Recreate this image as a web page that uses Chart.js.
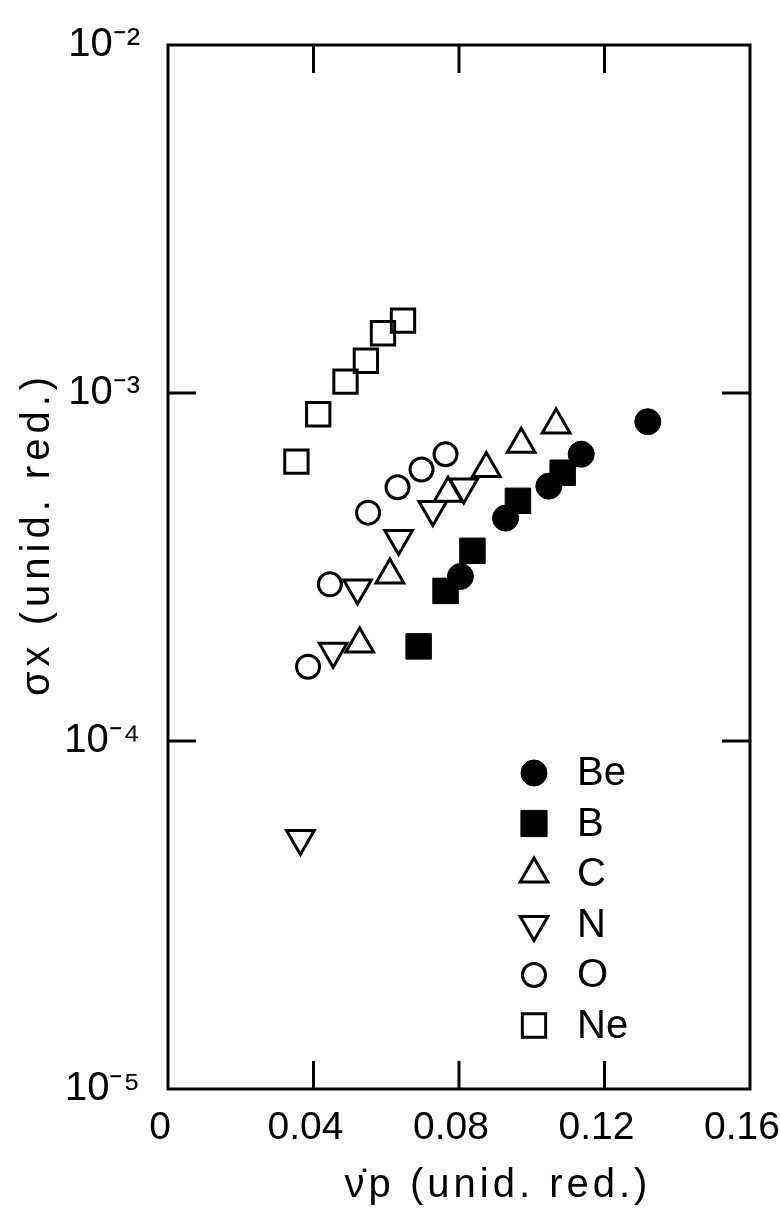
<!DOCTYPE html>
<html><head><meta charset="utf-8">
<script src="https://cdn.jsdelivr.net/npm/chart.js@4.4.1/dist/chart.umd.min.js"></script>
<style>html,body{margin:0;padding:0;background:#fff;}canvas{display:block;}</style>
</head><body>
<canvas id="c" width="780" height="1214"></canvas>
<script>
// ---- data ----
const seriesNames = ['Be', 'B', 'C', 'N', 'O', 'Ne'];
const beX = [0.0804, 0.0928, 0.1047, 0.1136, 0.1319];
const beY = [2.97e-4, 4.37e-4, 5.40e-4, 6.67e-4, 8.27e-4];
const bX  = [0.0689, 0.0763, 0.0837, 0.0962, 0.1085];
const bY  = [1.87e-4, 2.70e-4, 3.52e-4, 4.90e-4, 5.90e-4];
const cX  = [0.0527, 0.0610, 0.0770, 0.0875, 0.0971, 0.1067];
const cY  = [1.90e-4, 3.00e-4, 5.15e-4, 6.07e-4, 7.12e-4, 8.09e-4];
const nX  = [0.0364, 0.0454, 0.0521, 0.0634, 0.0728, 0.0813];
const nY  = [5.25e-5, 1.81e-4, 2.75e-4, 3.82e-4, 4.63e-4, 5.37e-4];
const oX  = [0.0385, 0.0445, 0.0550, 0.0631, 0.0697, 0.0763];
const oY  = [1.635e-4, 2.82e-4, 4.53e-4, 5.36e-4, 6.03e-4, 6.67e-4];
const neX = [0.0353, 0.0413, 0.0488, 0.0544, 0.0591, 0.0646];
const neY = [6.35e-4, 8.69e-4, 1.078e-3, 1.238e-3, 1.485e-3, 1.614e-3];

const xTickValues = [0, 0.04, 0.08, 0.12, 0.16];
const xTickLabels = ['0', '0.04', '0.08', '0.12', '0.16'];
const yTickValues = [1e-5, 1e-4, 1e-3, 1e-2];
const yTickLabels = ['10\u207B\u2075', '10\u207B\u2074', '10\u207B\u00B3', '10\u207B\u00B2'];
const xTitle = '\u03BD\u0307p (unid. red.)';
const yTitle = '\u03C3x (unid. red.)';

// ---- styles ----
const FONT = "'Liberation Sans', Arial, sans-serif";
const styles = [
  {pointStyle: 'circle',   radius: 13,   rotation: 0,   fill: '#000', bw: 1},
  {pointStyle: 'rect',     radius: 18,   rotation: 0,   fill: '#000', bw: 1},
  {pointStyle: 'triangle', radius: 16,   rotation: 0,   fill: 'rgba(0,0,0,0)', bw: 3},
  {pointStyle: 'triangle', radius: 16,   rotation: 180, fill: 'rgba(0,0,0,0)', bw: 3},
  {pointStyle: 'circle',   radius: 11.5, rotation: 0,   fill: 'rgba(0,0,0,0)', bw: 3},
  {pointStyle: 'rect',     radius: 16.5, rotation: 0,   fill: 'rgba(0,0,0,0)', bw: 3}
];
const xs = [beX, bX, cX, nX, oX, neX];
const ys = [beY, bY, cY, nY, oY, neY];

const datasets = seriesNames.map((name, i) => ({
  label: name,
  data: xs[i].map((x, j) => ({x: x, y: ys[i][j]})),
  pointStyle: styles[i].pointStyle,
  pointRadius: styles[i].radius,
  pointRotation: styles[i].rotation,
  pointBackgroundColor: styles[i].fill,
  pointBorderColor: '#000',
  pointBorderWidth: styles[i].bw,
  showLine: false
}));

function labelFor(values, labels, v) {
  for (let k = 0; k < values.length; k++) {
    if (Math.abs(values[k] - v) <= Math.abs(values[k]) * 1e-6 + 1e-12) return labels[k];
  }
  return '';
}

function drawMarker(ctx, st, x, y) {
  ctx.save();
  ctx.lineWidth = st.bw;
  ctx.strokeStyle = '#000';
  ctx.fillStyle = st.fill;
  ctx.beginPath();
  const r = st.radius;
  if (st.pointStyle === 'circle') {
    ctx.arc(x, y, r, 0, Math.PI * 2);
  } else if (st.pointStyle === 'rect') {
    const s = Math.SQRT1_2 * r;
    ctx.rect(x - s, y - s, 2 * s, 2 * s);
  } else {
    const rot = st.rotation * Math.PI / 180;
    for (let k = 0; k < 3; k++) {
      const a = rot + k * 2 * Math.PI / 3;
      const px = x + Math.sin(a) * r, py = y - Math.cos(a) * r;
      if (k === 0) ctx.moveTo(px, py); else ctx.lineTo(px, py);
    }
    ctx.closePath();
  }
  ctx.fill();
  ctx.stroke();
  ctx.restore();
}

const framePlugin = {
  id: 'frame',
  beforeDatasetsDraw(chart) {
    const ctx = chart.ctx, a = chart.chartArea;
    const sx = chart.scales.x, sy = chart.scales.y;
    const TL = 28;
    ctx.save();
    ctx.strokeStyle = '#000';
    ctx.lineWidth = 3;
    ctx.lineCap = 'butt';
    ctx.strokeRect(a.left, a.top, a.right - a.left, a.bottom - a.top);
    ctx.beginPath();
    sx.ticks.forEach(t => {
      if (t.value <= sx.min || t.value >= sx.max) return;
      const px = sx.getPixelForValue(t.value);
      ctx.moveTo(px, a.bottom); ctx.lineTo(px, a.bottom - TL);
      ctx.moveTo(px, a.top); ctx.lineTo(px, a.top + TL);
    });
    sy.ticks.forEach(t => {
      if (t.value <= sy.min * 1.0001 || t.value >= sy.max * 0.9999) return;
      const py = sy.getPixelForValue(t.value);
      ctx.moveTo(a.left, py); ctx.lineTo(a.left + TL, py);
      ctx.moveTo(a.right, py); ctx.lineTo(a.right - TL, py);
    });
    ctx.stroke();
    ctx.restore();
  },
  afterDraw(chart) {
    const ctx = chart.ctx;
    // legend inside plot area
    const lx = 534, ly0 = 773, dy = 50.5, tx = 577;
    ctx.save();
    ctx.font = '40px ' + FONT;
    ctx.fillStyle = '#000';
    ctx.textAlign = 'left';
    ctx.textBaseline = 'middle';
    seriesNames.forEach((name, i) => {
      const st = Object.assign({}, styles[i]);
      if (st.pointStyle === 'rect' && st.bw === 1) st.radius = 18.5;
      drawMarker(ctx, st, lx, ly0 + i * dy);
      ctx.fillText(name, tx, ly0 + i * dy + 1);
    });
    ctx.restore();
    // axis titles
    ctx.save();
    ctx.fillStyle = '#000';
    ctx.font = '40px ' + FONT;
    ctx.textAlign = 'center';
    ctx.textBaseline = 'middle';
    try { ctx.letterSpacing = '4px'; } catch (e) {}
    ctx.fillText(xTitle, 498, 1186);
    ctx.restore();
    ctx.save();
    ctx.fillStyle = '#000';
    ctx.font = '40px ' + FONT;
    ctx.textAlign = 'center';
    ctx.textBaseline = 'middle';
    try { ctx.letterSpacing = '5px'; } catch (e) {}
    ctx.translate(38, 534);
    ctx.rotate(-Math.PI / 2);
    ctx.fillText(yTitle, 0, 0);
    ctx.restore();
  }
};

new Chart(document.getElementById('c'), {
  type: 'scatter',
  data: {datasets: datasets},
  plugins: [framePlugin],
  options: {
    responsive: false,
    animation: false,
    devicePixelRatio: 1,
    layout: {padding: {top: 45, right: 30, left: 0, bottom: 0}},
    plugins: {legend: {display: false}, tooltip: {enabled: false}, title: {display: false}},
    scales: {
      x: {
        type: 'linear', min: 0, max: 0.16,
        afterBuildTicks: s => { s.ticks = xTickValues.map(v => ({value: v})); },
        afterFit: s => { s.height = 125; s.paddingLeft = 0; s.paddingRight = 0; },
        grid: {display: false, drawTicks: false},
        border: {display: false},
        ticks: {
          callback: v => labelFor(xTickValues, xTickLabels, v),
          font: {family: FONT, size: 39}, color: '#000',
          padding: 16, maxRotation: 0, autoSkip: false, labelOffset: -8
        }
      },
      y: {
        type: 'logarithmic', min: 1e-5, max: 1e-2,
        afterBuildTicks: s => { s.ticks = yTickValues.map(v => ({value: v})); },
        afterFit: s => { s.width = 168; s.paddingTop = 0; s.paddingBottom = 0; },
        grid: {display: false, drawTicks: false},
        border: {display: false},
        ticks: {
          callback: v => labelFor(yTickValues, yTickLabels, v),
          font: {family: FONT, size: 40}, color: '#000',
          padding: 28, autoSkip: false
        }
      }
    }
  }
});
</script>
</body></html>
